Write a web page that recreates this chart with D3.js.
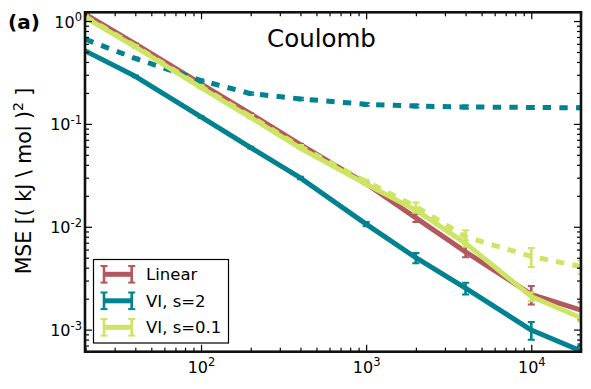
<!DOCTYPE html>
<html>
<head>
<meta charset="utf-8">
<script src="https://cdn.jsdelivr.net/npm/d3@7/dist/d3.min.js"></script>
<style>
  html, body { margin: 0; padding: 0; background: #fff; }
  svg { display: block; font-family: "DejaVu Sans", sans-serif; }
</style>
</head>
<body>
<svg id="chart" width="591" height="389"></svg>
<script>
// ---------- data ----------
const sizes = [20, 40, 100, 200, 400, 1000, 2000, 4000, 10000, 20000];

const linearMSE   = [1.16, 0.60, 0.245, 0.125, 0.063, 0.0262, 0.0122, 0.0057, 0.0022, 0.00155];
const linearErr   = [0.01, 0.006, 0.003, 0.0015, 0.001, 0.0007, 0.0011, 0.00065, 0.00045, 0.0003];

const vi2MSE      = [0.51, 0.29, 0.117, 0.0587, 0.0298, 0.0106, 0.0050, 0.00253, 0.00099, 0.00062];
const vi2Err      = [0.004, 0.006, 0.002, 0.0012, 0.0008, 0.0005, 0.00057, 0.00033, 0.000195, 0.0001];

const vi2MSEb     = [0.663, 0.433, 0.264, 0.197, 0.175, 0.155, 0.149, 0.146, 0.1445, 0.1435];
const vi2ErrB     = [0.01, 0.008, 0.005, 0.005, 0.005, 0.005, 0.005, 0.005, 0.005, 0.005];

const vi01MSE     = [1.08, 0.56, 0.225, 0.115, 0.058, 0.026, 0.0145, 0.0069, 0.0021, 0.0013];
const vi01Err     = [0.02, 0.01, 0.004, 0.002, 0.001, 0.0006, 0.0008, 0.0005, 0.0002, 0.0001];

const vi01MSEb    = [1.10, 0.57, 0.23, 0.118, 0.060, 0.0275, 0.0157, 0.0080, 0.00515, 0.0041];
const vi01ErrB    = [0.03, 0.015, 0.007, 0.004, 0.0025, 0.0012, 0.0015, 0.00125, 0.00108, 0.0006];

const legendLabels = ["Linear", "VI, s=2", "VI, s=0.1"];
const xMajorTicks = [100, 1000, 10000];
const yMajorTicks = [0.001, 0.01, 0.1, 1];
const titleText = "Coulomb";
const panelText = "(a)";

// ---------- styles ----------
const cRed = "#b4585f", cTeal = "#008291", cYel = "#cde464";
const series = [
  { y: linearMSE, e: linearErr, color: cRed,  dash: null },
  { y: vi2MSE,    e: vi2Err,    color: cTeal, dash: null },
  { y: vi2MSEb,   e: vi2ErrB,   color: cTeal, dash: "8.33,8.33" },
  { y: vi01MSE,   e: vi01Err,   color: cYel,  dash: null },
  { y: vi01MSEb,  e: vi01ErrB,  color: cYel,  dash: "8.33,8.33" },
];
const legendColors = [cRed, cTeal, cYel];

// ---------- layout ----------
const L = 85, R = 581, T = 12.3, B = 351.7;
const svg = d3.select("#chart");
const x = d3.scaleLog().domain([20, 20000]).range([L + 0.6, R]);
const y = d3.scaleLog().domain([6.1e-4, 1.216]).range([B, T]);

svg.append("defs").append("clipPath").attr("id", "clip")
  .append("rect").attr("x", L).attr("y", T).attr("width", R - L).attr("height", B - T);

const plot = svg.append("g").attr("clip-path", "url(#clip)");

const line = d3.line().x((d, i) => x(sizes[i])).y(d => y(d));

series.forEach(s => {
  plot.append("path")
    .attr("d", line(s.y))
    .attr("fill", "none")
    .attr("stroke", s.color)
    .attr("stroke-width", 5)
    .attr("stroke-linejoin", "round")
    .attr("stroke-linecap", s.dash ? "butt" : "square")
    .attr("stroke-dasharray", s.dash);
  const eb = plot.append("g").attr("stroke", s.color);
  s.y.forEach((v, i) => {
    const cx = x(sizes[i]);
    const y1 = y(v + s.e[i]), y2 = y(Math.max(v - s.e[i], 1e-6));
    eb.append("line").attr("x1", cx).attr("x2", cx).attr("y1", y1).attr("y2", y2).attr("stroke-width", 2.6);
    [y1, y2].forEach(yy => eb.append("line").attr("x1", cx - 3.5).attr("x2", cx + 3.5)
      .attr("y1", yy).attr("y2", yy).attr("stroke-width", 2));
  });
});

// ---------- axes ----------
function minorTicks(domain) {
  const out = [];
  const lo = Math.floor(Math.log10(domain[0])), hi = Math.ceil(Math.log10(domain[1]));
  for (let p = lo; p <= hi; p++) for (let m = 1; m < 10; m++) {
    const v = m * Math.pow(10, p);
    if (v >= domain[0] * 0.999 && v <= domain[1] * 1.001) out.push(v);
  }
  return out;
}
const xMinor = minorTicks(x.domain()).filter(v => !xMajorTicks.includes(v));
const yMinor = minorTicks(y.domain()).filter(v => !yMajorTicks.some(t => Math.abs(t - v) / v < 1e-6));

function styleAxis(g) {
  g.select(".domain").remove();
  g.selectAll(".tick line").attr("stroke", "#000").attr("stroke-width", 1.2);
}
// bottom
svg.append("g").attr("transform", `translate(0,${B})`)
  .call(d3.axisBottom(x).tickValues(xMinor).tickSize(-4).tickFormat("")).call(styleAxis);
const xb = svg.append("g").attr("transform", `translate(0,${B})`)
  .call(d3.axisBottom(x).tickValues(xMajorTicks).tickSize(-7).tickPadding(14)).call(styleAxis);
// top
svg.append("g").attr("transform", `translate(0,${T})`)
  .call(d3.axisTop(x).tickValues(xMinor).tickSize(-4).tickFormat("")).call(styleAxis);
svg.append("g").attr("transform", `translate(0,${T})`)
  .call(d3.axisTop(x).tickValues(xMajorTicks).tickSize(-7).tickFormat("")).call(styleAxis);
// left
svg.append("g").attr("transform", `translate(${L},0)`)
  .call(d3.axisLeft(y).tickValues(yMinor).tickSize(-4).tickFormat("")).call(styleAxis);
const yl = svg.append("g").attr("transform", `translate(${L},0)`)
  .call(d3.axisLeft(y).tickValues(yMajorTicks).tickSize(-7).tickPadding(6)).call(styleAxis);
// right
svg.append("g").attr("transform", `translate(${R},0)`)
  .call(d3.axisRight(y).tickValues(yMinor).tickSize(-4).tickFormat("")).call(styleAxis);
svg.append("g").attr("transform", `translate(${R},0)`)
  .call(d3.axisRight(y).tickValues(yMajorTicks).tickSize(-7).tickFormat("")).call(styleAxis);

function powLabel(sel) {
  sel.each(function(d) {
    const t = d3.select(this);
    const e = Math.round(Math.log10(d));
    t.text(null).attr("font-family", "DejaVu Sans").attr("font-size", 16).attr("fill", "#000");
    t.append("tspan").text("10");
    t.append("tspan").attr("font-size", 11.5).attr("dy", -6.5).text(e);
  });
}
xb.selectAll(".tick text").call(powLabel).attr("dy", null).attr("y", 21);
yl.selectAll(".tick text").call(powLabel).attr("dy", null).attr("y", 6).attr("x", -3);

// frame
svg.append("rect").attr("x", L).attr("y", T).attr("width", R - L).attr("height", B - T)
  .attr("fill", "none").attr("stroke", "#111").attr("stroke-width", 2.6);

// ---------- legend ----------
const lg = svg.append("g");
lg.append("rect").attr("x", 93.5).attr("y", 259.5).attr("width", 135).attr("height", 83.5)
  .attr("fill", "#fff").attr("stroke", "#000").attr("stroke-width", 1.2);
legendLabels.forEach((lab, i) => {
  const cy = 274.3 + i * 26.5;
  const g = lg.append("g").attr("stroke", legendColors[i]);
  g.append("line").attr("x1", 104).attr("x2", 131.7).attr("y1", cy).attr("y2", cy).attr("stroke-width", 5);
  [104, 131.7].forEach(cx => {
    g.append("line").attr("x1", cx).attr("x2", cx).attr("y1", cy - 8.3).attr("y2", cy + 8.3).attr("stroke-width", 2.6);
    [cy - 8.3, cy + 8.3].forEach(yy => g.append("line").attr("x1", cx - 3.5).attr("x2", cx + 3.5)
      .attr("y1", yy).attr("y2", yy).attr("stroke-width", 2));
  });
  lg.append("text").attr("x", 146).attr("y", cy + 6).attr("font-size", 16.5).attr("fill", "#000").text(lab);
});

// ---------- texts ----------
svg.append("text").attr("x", 321.5).attr("y", 46.5).attr("text-anchor", "middle")
  .attr("font-size", 24.5).attr("fill", "#000").text(titleText);
svg.append("text").attr("x", 8).attr("y", 29).attr("font-size", 20).attr("font-weight", "bold")
  .attr("fill", "#000").text(panelText);

const ylab = svg.append("text").attr("transform", "translate(31,181) rotate(-90)")
  .attr("text-anchor", "middle").attr("font-size", 20.5).attr("fill", "#000");
ylab.append("tspan").text("MSE [( kJ \\ mol )");
ylab.append("tspan").attr("font-size", 14).attr("dy", -8).text("2");
ylab.append("tspan").attr("dy", 8).text(" ]");
</script>
</body>
</html>
